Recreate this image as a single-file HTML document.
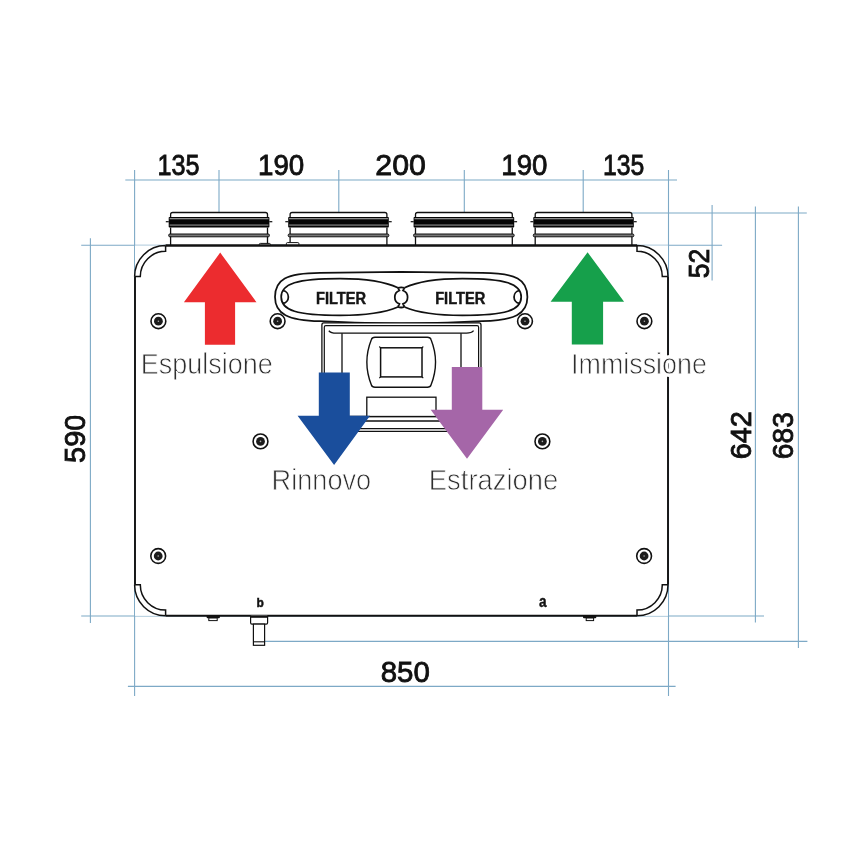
<!DOCTYPE html>
<html><head><meta charset="utf-8"><title>Dimensions</title>
<style>html,body{margin:0;padding:0;background:#fff;}svg{display:block;will-change:transform;}</style>
</head><body>
<svg width="850" height="850" viewBox="0 0 850 850">
<rect width="850" height="850" fill="#fff"/>
<line x1="125.3" y1="180" x2="677" y2="180" stroke="#7da9c6" stroke-width="1.1"/>
<line x1="219" y1="170" x2="219" y2="212.5" stroke="#7da9c6" stroke-width="1.1"/>
<line x1="338.8" y1="170" x2="338.8" y2="212.5" stroke="#7da9c6" stroke-width="1.1"/>
<line x1="464.3" y1="170" x2="464.3" y2="212.5" stroke="#7da9c6" stroke-width="1.1"/>
<line x1="583.2" y1="170" x2="583.2" y2="212.5" stroke="#7da9c6" stroke-width="1.1"/>
<line x1="134.6" y1="170" x2="134.6" y2="696" stroke="#7da9c6" stroke-width="1.1"/>
<line x1="668.5" y1="170" x2="668.5" y2="696" stroke="#7da9c6" stroke-width="1.1"/>
<line x1="631.9" y1="213" x2="806.8" y2="213" stroke="#7da9c6" stroke-width="1.1"/>
<line x1="81.2" y1="245.2" x2="722.1" y2="245.2" stroke="#7da9c6" stroke-width="1.1"/>
<line x1="712.1" y1="205" x2="712.1" y2="280.4" stroke="#7da9c6" stroke-width="1.1"/>
<line x1="755.4" y1="206.6" x2="755.4" y2="622.4" stroke="#7da9c6" stroke-width="1.1"/>
<line x1="798.4" y1="206.6" x2="798.4" y2="648" stroke="#7da9c6" stroke-width="1.1"/>
<line x1="81.2" y1="616" x2="764" y2="616" stroke="#7da9c6" stroke-width="1.1"/>
<line x1="265" y1="641.4" x2="807.4" y2="641.4" stroke="#7da9c6" stroke-width="1.1"/>
<line x1="127.9" y1="686.4" x2="675.6" y2="686.4" stroke="#7da9c6" stroke-width="1.1"/>
<line x1="90.4" y1="238.2" x2="90.4" y2="622.9" stroke="#7da9c6" stroke-width="1.1"/>
<rect x="170.6" y="212.5" width="96.9" height="32.5" fill="#fff"/>
<path d="M170.6 217.5 V214.6 Q170.6 212.5 172.7 212.5 H265.4 Q267.5 212.5 267.5 214.6 V217.5" fill="#fff" stroke="#111" stroke-width="1.3"/>
<rect x="168.7" y="216.9" width="100.70" height="10.6" rx="0.8" fill="#050505"/>
<rect x="169.60" y="218.0" width="98.90" height="1.3" fill="#8a8a8a"/>
<rect x="169.60" y="224.2" width="98.90" height="1.8" fill="#5a5a5a"/>
<rect x="165.80" y="221.1" width="3" height="1.2" fill="#111"/>
<rect x="269.30" y="221.1" width="3" height="1.2" fill="#111"/>
<line x1="170.6" y1="227.5" x2="170.6" y2="245" stroke="#111" stroke-width="1.3"/>
<line x1="267.5" y1="227.5" x2="267.5" y2="245" stroke="#111" stroke-width="1.3"/>
<rect x="168.7" y="234.0" width="100.70" height="2.8" rx="1.1" fill="#777" stroke="#111" stroke-width="1"/>
<rect x="290.1" y="212.5" width="96.79999999999995" height="32.5" fill="#fff"/>
<path d="M290.1 217.5 V214.6 Q290.1 212.5 292.20000000000005 212.5 H384.79999999999995 Q386.9 212.5 386.9 214.6 V217.5" fill="#fff" stroke="#111" stroke-width="1.3"/>
<rect x="288.20000000000005" y="216.9" width="100.60" height="10.6" rx="0.8" fill="#050505"/>
<rect x="289.10" y="218.0" width="98.80" height="1.3" fill="#8a8a8a"/>
<rect x="289.10" y="224.2" width="98.80" height="1.8" fill="#5a5a5a"/>
<rect x="285.30" y="221.1" width="3" height="1.2" fill="#111"/>
<rect x="388.70" y="221.1" width="3" height="1.2" fill="#111"/>
<line x1="290.1" y1="227.5" x2="290.1" y2="245" stroke="#111" stroke-width="1.3"/>
<line x1="386.9" y1="227.5" x2="386.9" y2="245" stroke="#111" stroke-width="1.3"/>
<rect x="288.20000000000005" y="234.0" width="100.60" height="2.8" rx="1.1" fill="#777" stroke="#111" stroke-width="1"/>
<rect x="415.5" y="212.5" width="96.79999999999995" height="32.5" fill="#fff"/>
<path d="M415.5 217.5 V214.6 Q415.5 212.5 417.6 212.5 H510.19999999999993 Q512.3 212.5 512.3 214.6 V217.5" fill="#fff" stroke="#111" stroke-width="1.3"/>
<rect x="413.6" y="216.9" width="100.60" height="10.6" rx="0.8" fill="#050505"/>
<rect x="414.50" y="218.0" width="98.80" height="1.3" fill="#8a8a8a"/>
<rect x="414.50" y="224.2" width="98.80" height="1.8" fill="#5a5a5a"/>
<rect x="410.70" y="221.1" width="3" height="1.2" fill="#111"/>
<rect x="514.10" y="221.1" width="3" height="1.2" fill="#111"/>
<line x1="415.5" y1="227.5" x2="415.5" y2="245" stroke="#111" stroke-width="1.3"/>
<line x1="512.3" y1="227.5" x2="512.3" y2="245" stroke="#111" stroke-width="1.3"/>
<rect x="413.6" y="234.0" width="100.60" height="2.8" rx="1.1" fill="#777" stroke="#111" stroke-width="1"/>
<rect x="535.2" y="212.5" width="96.69999999999993" height="32.5" fill="#fff"/>
<path d="M535.2 217.5 V214.6 Q535.2 212.5 537.3000000000001 212.5 H629.8 Q631.9 212.5 631.9 214.6 V217.5" fill="#fff" stroke="#111" stroke-width="1.3"/>
<rect x="533.3000000000001" y="216.9" width="100.50" height="10.6" rx="0.8" fill="#050505"/>
<rect x="534.20" y="218.0" width="98.70" height="1.3" fill="#8a8a8a"/>
<rect x="534.20" y="224.2" width="98.70" height="1.8" fill="#5a5a5a"/>
<rect x="530.40" y="221.1" width="3" height="1.2" fill="#111"/>
<rect x="633.70" y="221.1" width="3" height="1.2" fill="#111"/>
<line x1="535.2" y1="227.5" x2="535.2" y2="245" stroke="#111" stroke-width="1.3"/>
<line x1="631.9" y1="227.5" x2="631.9" y2="245" stroke="#111" stroke-width="1.3"/>
<rect x="533.3000000000001" y="234.0" width="100.50" height="2.8" rx="1.1" fill="#777" stroke="#111" stroke-width="1"/>
<rect x="259.3" y="243.4" width="11.1" height="2.4" rx="1" fill="#fff" stroke="#111" stroke-width="1"/>
<rect x="286.4" y="242.6" width="12.5" height="3.2" rx="1" fill="#fff" stroke="#111" stroke-width="1"/>
<rect x="135" y="245.5" width="533" height="370.3" fill="#fff" stroke="none"/>
<path d="M135 276.6 V584.8 M668 276.6 V584.8" stroke="#111" stroke-width="1.9" fill="none"/>
<path d="M165.6 245.5 H637" stroke="#111" stroke-width="2.4" fill="none"/>
<path d="M165.6 615.8 H637" stroke="#111" stroke-width="2.0" fill="none"/>
<path d="M134.6 276.6 A31 31 0 0 1 165.6 245.6 M165.6 245.6 V251.3 A25.3 25.3 0 0 0 140.3 276.6 H134.6" stroke="#111" stroke-width="1.5" fill="none"/>
<path d="M637 245.6 A31 31 0 0 1 668 276.6 M637 245.6 V251.3 A25.3 25.3 0 0 1 662.3 276.6 H668" stroke="#111" stroke-width="1.5" fill="none"/>
<path d="M668 584.8 A31 31 0 0 1 637 615.8 M668 584.8 H662.3 A25.3 25.3 0 0 1 637 610.1 V615.8" stroke="#111" stroke-width="1.5" fill="none"/>
<path d="M165.6 615.8 A31 31 0 0 1 134.6 584.8 M134.6 584.8 H140.3 A25.3 25.3 0 0 0 165.6 610.1 V615.8" stroke="#111" stroke-width="1.5" fill="none"/>
<path d="M206.6 615.5 H219.9 V617.2 Q219.9 618.2 218.9 618.2 H207.6 Q206.6 618.2 206.6 617.2 Z" fill="#111"/>
<rect x="208.8" y="618" width="8.4" height="2.6" fill="#fff" stroke="#111" stroke-width="1"/>
<path d="M583 615.5 H596.3 V617.2 Q596.3 618.2 595.3 618.2 H584 Q583 618.2 583 617.2 Z" fill="#111"/>
<rect x="586.2" y="618" width="7.4" height="2.6" fill="#fff" stroke="#111" stroke-width="1"/>
<path d="M250.6 615.5 V622.8 Q250.6 624.1 251.9 624.1 H266.3 Q267.6 624.1 267.6 622.8 V615.5" fill="#fff" stroke="#111" stroke-width="1.2"/>
<rect x="250.6" y="615.5" width="17" height="2.3" fill="#111"/>
<rect x="253.4" y="624.1" width="11.2" height="21.2" fill="#fff" stroke="#111" stroke-width="1.2"/>
<line x1="253.4" y1="641.8" x2="264.6" y2="641.8" stroke="#111" stroke-width="1.1"/>
<path d="M401.2 271.8 L320 272.8 C286 273 275 279.5 275 297 C275 314 288 320.5 320 321.2 Q370 323.6 401.2 323.6 Q432.4 323.6 482.4 321.2 C514.4 320.5 527.4 314 527.4 297 C527.4 279.5 516.4 273 482.4 272.8 Z" fill="#fff" stroke="#111" stroke-width="1.75"/>
<path d="M397.9 287.8 C385 281.5 368 278.6 340 278.6 C297 278.6 281.2 283.5 281.2 297 C281.2 310.5 297 315.4 340 315.4 C368 315.4 385 312.5 397.9 307" fill="none" stroke="#111" stroke-width="1.75"/>
<path d="M404.5 287.8 C417.4 281.5 434.4 278.6 462.4 278.6 C505.4 278.6 521.2 283.5 521.2 297 C521.2 310.5 505.4 315.4 462.4 315.4 C434.4 315.4 417.4 312.5 404.5 307" fill="none" stroke="#111" stroke-width="1.75"/>
<path d="M397.9 287.8 L399.4 290.5 A7.18 7.18 0 0 0 399.4 303.9 L397.9 307 M404.5 287.8 L403.0 290.5 A7.18 7.18 0 0 1 403.0 303.9 L404.5 307 M397.9 287.8 Q401.2 286.8 404.5 287.8 M397.9 307 Q401.2 308 404.5 307" fill="none" stroke="#111" stroke-width="1.75"/>
<path d="M283 290.5 A6.5 6.5 0 0 1 283 303.3 M519.4 290.5 A6.5 6.5 0 0 0 519.4 303.3" fill="none" stroke="#111" stroke-width="1.75"/>
<text x="341" y="303.7" font-family='"Liberation Sans", sans-serif' font-weight="bold" font-size="17" text-anchor="middle" fill="#151515" stroke="#151515" stroke-width="0.5" transform="translate(341 0) scale(0.86 1) translate(-341 0)">FILTER</text>
<text x="460.2" y="303.7" font-family='"Liberation Sans", sans-serif' font-weight="bold" font-size="17" text-anchor="middle" fill="#151515" stroke="#151515" stroke-width="0.5" transform="translate(460.2 0) scale(0.86 1) translate(-460.2 0)">FILTER</text>
<rect x="321.9" y="322.9" width="159.1" height="108.4" rx="2" fill="#fff" stroke="#111" stroke-width="1.3"/>
<rect x="324.3" y="325.7" width="154.3" height="103" rx="1.5" fill="none" stroke="#111" stroke-width="1.2"/>
<path d="M328.8 330.7 Q331 333.2 336.2 333.2 H466.5 Q471.5 333.2 473.6 330.7" fill="none" stroke="#111" stroke-width="1.3"/>
<path d="M342 333.2 V416.5 M461 333.2 V416.5" fill="none" stroke="#111" stroke-width="1.3"/>
<path d="M324.3 416.5 H478.6 M324.3 421 H478.6" fill="none" stroke="#111" stroke-width="1.3"/>
<path d="M375 337.2 H427.4 Q430.4 337.2 431 339.5 Q440.1 362.2 431 385 Q430.4 387.2 427.4 387.2 H375 Q372 387.2 371.4 385 Q362.3 362.2 371.4 339.5 Q372 337.2 375 337.2 Z" fill="#fff" stroke="#111" stroke-width="1.4"/>
<rect x="380.6" y="347.8" width="41.4" height="29.1" fill="#fff" stroke="#111" stroke-width="1.5"/>
<path d="M380.6 347.8 l-1.3 -1.3 M422 347.8 l1.3 -1.3 M380.6 376.9 l-1.3 1.3 M422 376.9 l1.3 1.3" stroke="#111" stroke-width="1.1"/>
<rect x="366.8" y="397.2" width="69.2" height="19.3" fill="#fff" stroke="#111" stroke-width="1.3"/>
<circle cx="158.4" cy="321.2" r="7.4" fill="#fff" stroke="#111" stroke-width="1.6"/>
<circle cx="158.4" cy="321.2" r="4.4" fill="#1c1c1c"/>
<circle cx="158.4" cy="321.2" r="0.8" fill="#aaa"/>
<circle cx="277.6" cy="321.2" r="7.4" fill="#fff" stroke="#111" stroke-width="1.6"/>
<circle cx="277.6" cy="321.2" r="4.4" fill="#1c1c1c"/>
<circle cx="277.6" cy="321.2" r="0.8" fill="#aaa"/>
<circle cx="525" cy="321.2" r="7.4" fill="#fff" stroke="#111" stroke-width="1.6"/>
<circle cx="525" cy="321.2" r="4.4" fill="#1c1c1c"/>
<circle cx="525" cy="321.2" r="0.8" fill="#aaa"/>
<circle cx="644.4" cy="321.2" r="7.4" fill="#fff" stroke="#111" stroke-width="1.6"/>
<circle cx="644.4" cy="321.2" r="4.4" fill="#1c1c1c"/>
<circle cx="644.4" cy="321.2" r="0.8" fill="#aaa"/>
<circle cx="260.5" cy="441.4" r="7.4" fill="#fff" stroke="#111" stroke-width="1.6"/>
<circle cx="260.5" cy="441.4" r="4.4" fill="#1c1c1c"/>
<circle cx="260.5" cy="441.4" r="0.8" fill="#aaa"/>
<circle cx="542.4" cy="441.4" r="7.4" fill="#fff" stroke="#111" stroke-width="1.6"/>
<circle cx="542.4" cy="441.4" r="4.4" fill="#1c1c1c"/>
<circle cx="542.4" cy="441.4" r="0.8" fill="#aaa"/>
<circle cx="158.2" cy="556" r="7.4" fill="#fff" stroke="#111" stroke-width="1.6"/>
<circle cx="158.2" cy="556" r="4.4" fill="#1c1c1c"/>
<circle cx="158.2" cy="556" r="0.8" fill="#aaa"/>
<circle cx="644.1" cy="556" r="7.4" fill="#fff" stroke="#111" stroke-width="1.6"/>
<circle cx="644.1" cy="556" r="4.4" fill="#1c1c1c"/>
<circle cx="644.1" cy="556" r="0.8" fill="#aaa"/>
<path d="M220.2 252.6 L256.5 302.3 H235.1 V344.7 H204.9 V302.3 H183.9 Z" fill="#ec2c2f"/>
<path d="M587.6 252.3 L624.1 301.8 H603.1 V344.4 H571.8 V301.8 H550.6 Z" fill="#16a04b"/>
<path d="M318.8 372.4 H349.8 V415.7 H370 L334.1 465 L297.6 415.7 H318.8 Z" fill="#1a4e9c"/>
<path d="M451.8 366.9 H482.3 V409.8 H503.2 L467 458.8 L430.7 409.8 H451.8 Z" fill="#a566a8"/>
<text x="206.85000000000002" y="373.8" font-family='"Liberation Sans", sans-serif' font-size="29.3" text-anchor="middle" textLength="132.0" lengthAdjust="spacingAndGlyphs" fill="none" stroke="#fff" stroke-width="6" stroke-linejoin="round">Espulsione</text>
<text x="206.85000000000002" y="373.8" font-family='"Liberation Sans", sans-serif' font-size="29.3" text-anchor="middle" textLength="132.0" lengthAdjust="spacingAndGlyphs" fill="#2e2e2e" stroke="#fff" stroke-width="0.8">Espulsione</text>
<text x="639.0" y="373.8" font-family='"Liberation Sans", sans-serif' font-size="29.3" text-anchor="middle" textLength="135.8" lengthAdjust="spacingAndGlyphs" fill="none" stroke="#fff" stroke-width="6" stroke-linejoin="round">Immissione</text>
<text x="639.0" y="373.8" font-family='"Liberation Sans", sans-serif' font-size="29.3" text-anchor="middle" textLength="135.8" lengthAdjust="spacingAndGlyphs" fill="#2e2e2e" stroke="#fff" stroke-width="0.8">Immissione</text>
<text x="321.4" y="489.8" font-family='"Liberation Sans", sans-serif' font-size="29.3" text-anchor="middle" textLength="99.6" lengthAdjust="spacingAndGlyphs" fill="none" stroke="#fff" stroke-width="6" stroke-linejoin="round">Rinnovo</text>
<text x="321.4" y="489.8" font-family='"Liberation Sans", sans-serif' font-size="29.3" text-anchor="middle" textLength="99.6" lengthAdjust="spacingAndGlyphs" fill="#2e2e2e" stroke="#fff" stroke-width="0.8">Rinnovo</text>
<text x="493.5" y="490.1" font-family='"Liberation Sans", sans-serif' font-size="29.3" text-anchor="middle" textLength="129.3" lengthAdjust="spacingAndGlyphs" fill="none" stroke="#fff" stroke-width="6" stroke-linejoin="round">Estrazione</text>
<text x="493.5" y="490.1" font-family='"Liberation Sans", sans-serif' font-size="29.3" text-anchor="middle" textLength="129.3" lengthAdjust="spacingAndGlyphs" fill="#2e2e2e" stroke="#fff" stroke-width="0.8">Estrazione</text>
<text x="0" y="0" font-family='"Liberation Sans", sans-serif' font-size="29.5" text-anchor="middle" fill="#111" stroke="#111" stroke-width="0.85" transform="translate(178.6 175) scale(0.854 1)">135</text>
<text x="0" y="0" font-family='"Liberation Sans", sans-serif' font-size="29.5" text-anchor="middle" fill="#111" stroke="#111" stroke-width="0.85" transform="translate(281.1 175) scale(0.94 1)">190</text>
<text x="0" y="0" font-family='"Liberation Sans", sans-serif' font-size="29.5" text-anchor="middle" fill="#111" stroke="#111" stroke-width="0.85" transform="translate(400.6 175) scale(1.027 1)">200</text>
<text x="0" y="0" font-family='"Liberation Sans", sans-serif' font-size="29.5" text-anchor="middle" fill="#111" stroke="#111" stroke-width="0.85" transform="translate(524.4 175) scale(0.938 1)">190</text>
<text x="0" y="0" font-family='"Liberation Sans", sans-serif' font-size="29.5" text-anchor="middle" fill="#111" stroke="#111" stroke-width="0.85" transform="translate(623.6 175) scale(0.84 1)">135</text>
<text x="0" y="0" font-family='"Liberation Sans", sans-serif' font-size="29.5" text-anchor="middle" fill="#111" stroke="#111" stroke-width="0.85" transform="translate(405.3 681.9) scale(0.998 1)">850</text>
<text x="0" y="0" font-family='"Liberation Sans", sans-serif' font-size="29.5" text-anchor="middle" fill="#111" stroke="#111" stroke-width="0.85" transform="translate(84.8 438.8) rotate(-90) scale(0.981 1)">590</text>
<text x="0" y="0" font-family='"Liberation Sans", sans-serif' font-size="29.5" text-anchor="middle" fill="#111" stroke="#111" stroke-width="0.85" transform="translate(708.6 263.5) rotate(-90) scale(0.904 1)">52</text>
<text x="0" y="0" font-family='"Liberation Sans", sans-serif' font-size="29.5" text-anchor="middle" fill="#111" stroke="#111" stroke-width="0.85" transform="translate(751.2 435.3) rotate(-90) scale(0.977 1)">642</text>
<text x="0" y="0" font-family='"Liberation Sans", sans-serif' font-size="29.5" text-anchor="middle" fill="#111" stroke="#111" stroke-width="0.85" transform="translate(793.1 435.7) rotate(-90) scale(0.954 1)">683</text>
<text x="260.1" y="606.7" font-family='"Liberation Sans", sans-serif' font-weight="bold" font-size="12" text-anchor="middle" fill="#111" stroke="#111" stroke-width="0.4">b</text>
<text x="0" y="0" font-family='"Liberation Sans", sans-serif' font-weight="bold" font-size="16" text-anchor="middle" fill="#111" stroke="#111" stroke-width="0.4" transform="translate(542.8 606.8) scale(0.85 1)">a</text>
</svg>
</body></html>
